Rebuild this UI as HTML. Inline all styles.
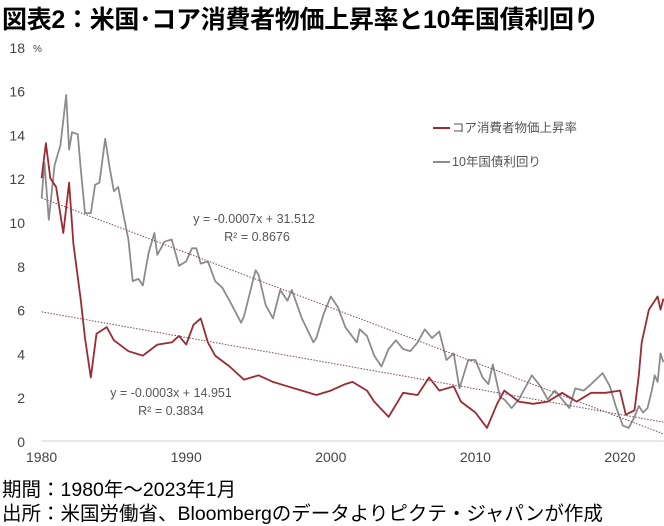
<!DOCTYPE html>
<html><head><meta charset="utf-8">
<style>
body{margin:0;background:#fff;width:664px;height:526px;overflow:hidden;font-family:"Liberation Sans","Noto Sans CJK JP",sans-serif;}
.t{position:absolute;left:2px;white-space:nowrap;color:#000;}
</style></head>
<body>
<div class="t" style="top:0px;font-size:25px;font-weight:bold;letter-spacing:-0.3px">図表2：米国･コア消費者物価上昇率と10年国債利回り</div>
<svg id="c" width="664" height="526" style="position:absolute;left:0;top:0"></svg>
<div class="t" style="top:473px;font-size:19.5px">期間：1980年～2023年1月</div>
<div class="t" style="top:497px;font-size:19.5px">出所：米国労働省、Bloombergのデータよりピクテ・ジャパンが作成</div>
<script>
const yTicks=[0,2,4,6,8,10,12,14,16,18];
const xTicks=[1980,1990,2000,2010,2020];
const cpiYears=[1980,1980.3,1980.6,1981,1981.5,1981.9,1982.2,1982.7,1983,1983.4,1983.8,1984.5,1985,1986,1987,1988,1989,1989.5,1990,1990.5,1991,1991.5,1992,1993,1994,1995,1996,1997,1998,1999,2000,2001,2001.5,2002.5,2003,2004,2005,2006,2006.8,2007.5,2008.5,2009,2010,2010.8,2011.5,2012,2013,2014,2015,2016,2017,2018,2019,2020,2020.4,2021,2021.3,2021.5,2022,2022.3,2022.6,2022.8,2023];
const cpiValues=[12,13.6,12,11.6,9.5,11.8,9,6.5,4.7,2.9,4.9,5.2,4.6,4.1,3.9,4.4,4.5,4.8,4.4,5.3,5.6,4.5,3.9,3.4,2.8,3.0,2.7,2.5,2.3,2.1,2.3,2.6,2.7,2.3,1.8,1.1,2.2,2.1,2.9,2.3,2.5,1.8,1.3,0.6,1.7,2.3,1.8,1.7,1.8,2.2,1.8,2.2,2.2,2.3,1.2,1.4,3.0,4.5,6.0,6.3,6.6,6.0,6.5];
const bondYears=[1980,1980.2,1980.5,1980.9,1981.3,1981.7,1981.9,1982.1,1982.5,1982.7,1983,1983.4,1983.7,1984,1984.4,1984.7,1985,1985.3,1985.7,1986,1986.3,1986.7,1987,1987.4,1987.8,1988,1988.5,1989,1989.5,1990,1990.4,1990.7,1991,1991.5,1992,1992.5,1993,1993.8,1994,1994.8,1995,1995.5,1996,1996.5,1997,1997.3,1998,1998.8,1999,1999.5,2000,2000.5,2001,2001.8,2002,2002.5,2003,2003.5,2004,2004.5,2005,2005.5,2006,2006.5,2007,2007.5,2008,2008.5,2008.9,2009.5,2010,2010.5,2010.9,2011.2,2011.7,2012,2012.5,2013,2013.5,2013.9,2014.5,2015,2015.5,2016.5,2016.9,2017.5,2018,2018.8,2019.3,2019.7,2020.2,2020.6,2021,2021.3,2021.6,2021.9,2022.2,2022.4,2022.6,2022.8,2023];
const bondValues=[11.1,12.7,10.1,12.6,13.5,15.8,13.3,14.1,14.0,12.5,10.4,10.4,11.7,11.8,13.8,12.5,11.4,11.6,10.2,9.2,7.3,7.4,7.1,8.6,9.5,8.5,9.1,9.2,8.0,8.2,8.8,8.8,8.1,8.2,7.3,7.0,6.4,5.4,5.7,7.8,7.6,6.2,5.6,6.9,6.4,6.9,5.6,4.5,4.7,5.8,6.6,6.1,5.2,4.5,5.1,4.8,3.9,3.4,4.2,4.6,4.2,4.1,4.5,5.1,4.7,5.0,3.7,4.0,2.4,3.7,3.7,2.9,2.6,3.5,2.0,1.9,1.5,1.9,2.5,3.0,2.5,1.9,2.3,1.5,2.4,2.3,2.6,3.1,2.5,1.6,0.7,0.6,1.1,1.6,1.3,1.5,2.3,3.0,2.7,4.0,3.6];
const trendYears=[1980,2023.1];
const bondTrend=[11.1,0.3];
const cpiTrend=[5.9,0.85];
const NS='http://www.w3.org/2000/svg';
const svg=document.getElementById('c');
const x=v=>41.6+(v-1980)*14.46;
const y=v=>441-v*21.9;
function mk(tag,attrs){const e=document.createElementNS(NS,tag);for(const k in attrs)e.setAttribute(k,attrs[k]);svg.appendChild(e);return e;}
const ax=mk('line',{x1:x(1980),x2:664,y1:y(0),y2:y(0),stroke:'#d0d0d0','stroke-width':1});


yTicks.forEach(v=>{const t=mk('text',{x:25,y:y(v)+6,'text-anchor':'end','font-size':14,fill:'#444'});t.textContent=v;

});
const pc=mk('text',{x:33,y:y(18)+5,'font-size':10,fill:'#444'});pc.textContent='%';


xTicks.forEach(v=>{const t=mk('text',{x:x(v),y:462,'text-anchor':'middle','font-size':14,fill:'#444'});t.textContent=v;

});
function line(xs,vs,col,w,name,dash){const p=mk('path',{d:xs.map((a,i)=>(i?'L':'M')+x(a).toFixed(1)+','+y(vs[i]).toFixed(1)).join(''),fill:'none',stroke:col,'stroke-width':w,'stroke-linejoin':'round'});if(dash)p.setAttribute('stroke-dasharray',dash);

return p;}
line(bondYears,bondValues,'#8c8c8c',1.8,'bond-yield-line');
line(cpiYears,cpiValues,'#9b2a33',1.8,'core-cpi-line');
line(trendYears,bondTrend,'#7a4a5a',1,'bond-trend-line','1.5,1.5');
line(trendYears,cpiTrend,'#7a4a5a',1,'cpi-trend-line','1.5,1.5');
function txt(s,xx,yy,name,anchor){const t=mk('text',{x:xx,y:yy,'font-size':12.5,fill:'#555','text-anchor':anchor||'middle'});t.textContent=s;

}
txt('y = -0.0007x + 31.512',254,223,'bond-trend-equation');
txt('R² = 0.8676',257,241,'bond-trend-r2');
txt('y = -0.0003x + 14.951',171,397,'cpi-trend-equation');
txt('R² = 0.3834',171,415,'cpi-trend-r2');
const l1=mk('line',{x1:433,x2:450,y1:128,y2:128,stroke:'#9b2a33','stroke-width':2});


txt('コア消費者物価上昇率',452,132,'legend-cpi-label','start');
const l2=mk('line',{x1:433,x2:450,y1:162,y2:162,stroke:'#8c8c8c','stroke-width':2});


txt('10年国債利回り',452,166,'legend-bond-label','start');
</script>
</body></html>
